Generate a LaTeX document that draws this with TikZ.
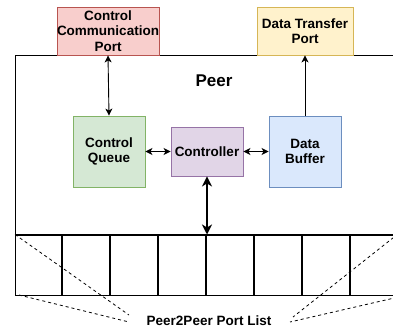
\documentclass[tikz,border=0pt]{standalone}
\usepackage{fontspec}
\setmainfont{Liberation Sans}
\usetikzlibrary{arrows.meta}
\definecolor{pinkfill}{HTML}{F8CECC}\definecolor{pinkline}{HTML}{B85450}
\definecolor{yellowfill}{HTML}{FFF2CC}\definecolor{yellowline}{HTML}{D6B656}
\definecolor{greenfill}{HTML}{D5E8D4}\definecolor{greenline}{HTML}{82B366}
\definecolor{purplefill}{HTML}{E1D5E7}\definecolor{purpleline}{HTML}{9673A6}
\definecolor{bluefill}{HTML}{DAE8FC}\definecolor{blueline}{HTML}{6C8EBF}
\tikzset{
  box/.style={draw, line width=0.9pt, inner sep=0pt, align=center,
    font=\fontsize{13.5}{15.5}\selectfont\bfseries},
  link/.style={line width=0.9pt, {Stealth[length=7pt,width=7pt,inset=2pt]}-{Stealth[length=7pt,width=7pt,inset=2pt]}},
  uplink/.style={line width=0.9pt, -{Stealth[length=7pt,width=7pt,inset=2pt]}},
  buslink/.style={line width=2pt, {Stealth[length=10pt,width=10pt,inset=3pt]}-{Stealth[length=10pt,width=10pt,inset=3pt]}},
  brace/.style={line width=0.8pt, dash pattern=on 3pt off 3pt},
}
\begin{document}
\begin{tikzpicture}[x=1pt,y=-1pt]
\useasboundingbox (0,0) rectangle (393,329);
\clip (0,0) rectangle (393,329);

% Peer container (runs past the right edge)
\draw[line width=0.9pt] (420,55) -- (15,55) -- (15,295);
\node[font=\fontsize{17}{19}\selectfont\bfseries] (peer) at (214,81) {Peer};

% ports on the container edge
\node[box, fill=pinkfill, draw=pinkline, minimum width=96pt, minimum height=48pt]
  (ccp) at (108,31) {Control\\Communication\\Port};
\node[box, fill=yellowfill, draw=yellowline, minimum width=96pt, minimum height=48pt]
  (dtp) at (305,31) {Data Transfer\\Port};

% inner components
\node[box, fill=greenfill, draw=greenline, minimum width=72pt, minimum height=71pt]
  (cq) at (109,151.5) {Control\\Queue};
\node[box, fill=purplefill, draw=purpleline, minimum width=72pt, minimum height=49pt]
  (ctl) at (207,151.5) {Controller};
\node[box, fill=bluefill, draw=blueline, minimum width=72pt, minimum height=71pt]
  (db) at (305,151.5) {Data\\Buffer};

% peer-to-peer port list
\coordinate (pl-tl) at (15,234.5);
\coordinate (pl-bl) at (15,295);
\draw[line width=0.9pt] (pl-tl) -- (pl-bl) -- (420,295);
\draw[line width=2pt] (15,234.5) -- (420,234.5);
\foreach \x in {61.5,109.5,157.5,205.5,253.5,301.5,349.5}
  \draw[line width=2pt] (\x,234.5) -- (\x,295);
\node[font=\fontsize{13.5}{15.5}\selectfont\bfseries] (pll) at (209,321) {Peer2Peer Port List};

% connectors
\draw[link] (ccp.south) -- (cq.north);
\draw[uplink] (db.north) -- (dtp.south);
\draw[link] (cq.east) -- (ctl.west);
\draw[link] (ctl.east) -- (db.west);
\draw[buslink] (ctl.south) -- (ctl.south |- pl-tl);

% dashed leaders from the label to the list
\coordinate (ll1) at (129,315);
\coordinate (ll2) at (129,322);
\coordinate (rl1) at (293,317);
\coordinate (rl2) at (290,322);
\coordinate (pl-tr) at (403,230);
\coordinate (pl-br) at (403,296);
\draw[brace] (pl-tl) -- (ll1);
\draw[brace] ([xshift=4pt]pl-bl) -- (ll2);
\draw[brace] (pl-tr) -- (rl1);
\draw[brace] (pl-br) -- (rl2);
\end{tikzpicture}
\end{document}
